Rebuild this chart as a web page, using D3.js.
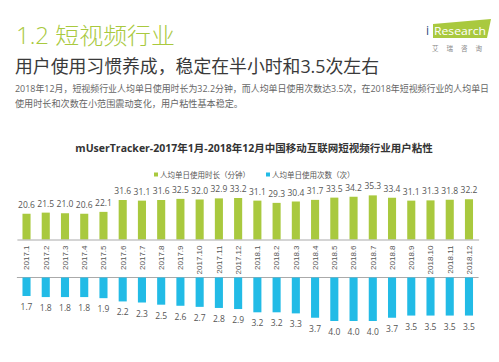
<!DOCTYPE html>
<html lang="zh">
  <head>
    <meta charset="UTF-8" />
    <title>短视频行业用户粘性</title>
    <script src="https://d3js.org/d3.v7.min.js"></script>
    <style>
      body { margin: 0; background: #fff; }
      svg { display: block; font-family: "Open Sans", "Noto Sans CJK SC", sans-serif; }
    </style>
  </head>
  <body>
    <svg id="chart" width="499" height="362"></svg>
    <script>
      const months = ["2017.1","2017.2","2017.3","2017.4","2017.5","2017.6","2017.7","2017.8","2017.9","2017.10","2017.11","2017.12",
                      "2018.1","2018.2","2018.3","2018.4","2018.5","2018.6","2018.7","2018.8","2018.9","2018.10","2018.11","2018.12"];
      const minutes = [20.6,21.5,21.0,20.6,22.1,31.6,31.1,31.6,32.5,32.0,32.9,33.2,31.1,29.3,30.4,31.7,33.5,34.2,35.3,33.4,31.1,31.3,31.8,32.2];
      const times = [1.7,1.8,1.8,1.8,1.9,2.2,2.3,2.5,2.6,2.7,2.8,2.9,3.2,3.2,3.3,3.7,4.0,4.0,4.0,3.7,3.5,3.5,3.5,3.5];
      const legendNames = ["人均单日使用时长（分钟）", "人均单日使用次数（次）"];

      const green = "#a9c93e";
      const blue = "#22bbe6";
      const svg = d3.select("#chart");

      // header
      svg.append("text").attr("x", 16).attr("y", 44)
        .attr("font-size", 23).attr("fill", green).attr("font-weight", 300)
        .attr("textLength", 159).attr("lengthAdjust", "spacingAndGlyphs")
        .text("1.2 短视频行业");
      svg.append("text").attr("x", 15).attr("y", 73)
        .attr("font-size", 18).attr("fill", "#3a3a3a")
        .attr("textLength", 364).attr("lengthAdjust", "spacingAndGlyphs")
        .text("用户使用习惯养成，稳定在半小时和3.5次左右");
      svg.append("text").attr("x", 15).attr("y", 92)
        .attr("font-size", 9.4).attr("fill", "#666")
        .attr("textLength", 474).attr("lengthAdjust", "spacingAndGlyphs")
        .text("2018年12月，短视频行业人均单日使用时长为32.2分钟，而人均单日使用次数达3.5次，在2018年短视频行业的人均单日");
      svg.append("text").attr("x", 15).attr("y", 107)
        .attr("font-size", 9.4).attr("fill", "#666")
        .attr("textLength", 228).attr("lengthAdjust", "spacingAndGlyphs")
        .text("使用时长和次数在小范围震动变化，用户粘性基本稳定。");

      // logo
      const logo = svg.append("g");
      logo.append("path").attr("d", "M433,24 L491,19 L487,38 L433,38 Z").attr("fill", green);
      logo.append("text").attr("x", 426).attr("y", 35).attr("font-size", 12).attr("fill", "#2a4a7a").text("i");
      logo.append("text").attr("x", 434).attr("y", 35).attr("font-size", 11).attr("fill", "#fff")
        .attr("textLength", 52).attr("lengthAdjust", "spacingAndGlyphs").text("Research");
      logo.append("text").attr("x", 461).attr("y", 51).attr("font-size", 6.5).attr("fill", "#888")
        .attr("text-anchor", "middle").attr("letter-spacing", 8).text("艾瑞咨询");

      // chart title + legend
      svg.append("text").attr("x", 254).attr("y", 152).attr("text-anchor", "middle")
        .attr("font-size", 10.5).attr("font-weight", "bold").attr("fill", "#333")
        .text("mUserTracker-2017年1月-2018年12月中国移动互联网短视频行业用户粘性");
      const legend = svg.append("g").selectAll("g").data(legendNames).join("g")
        .attr("transform", (d, i) => `translate(${i ? 266 : 154},172)`);
      legend.append("rect").attr("y", 0.5).attr("width", 4).attr("height", 4)
        .attr("fill", (d, i) => i ? blue : green);
      legend.append("text").attr("x", 6).attr("y", 5.5).attr("font-size", 7.5).attr("fill", "#555").text(d => d);

      const x = d3.scaleBand().domain(months).range([16.9, 478.6]).paddingInner(0.58).paddingOuter(0.29);
      const yTop = d3.scaleLinear().domain([0, 40]).range([239.5, 189.5]);
      const yBot = d3.scaleLinear().domain([0, 4]).range([277.5, 321]);
      const fmt = d3.format(".1f");

      // upper bars
      svg.append("g").selectAll("rect").data(minutes).join("rect")
        .attr("x", (d, i) => x(months[i])).attr("width", x.bandwidth())
        .attr("y", d => yTop(d)).attr("height", d => yTop(0) - yTop(d))
        .attr("fill", green);
      svg.append("g").selectAll("text").data(minutes).join("text")
        .attr("x", (d, i) => x(months[i]) + x.bandwidth() / 2).attr("y", d => yTop(d) - 6)
        .attr("text-anchor", "middle").attr("font-size", 8.5).attr("fill", "#555")
        .text(fmt);

      // month axis
      const axis = svg.append("g").attr("transform", "translate(0,239.5)")
        .call(d3.axisBottom(x).tickSize(0).tickSizeOuter(0));
      axis.select(".domain").attr("stroke", "#aaa");
      axis.selectAll("text")
        .attr("font-size", 8).attr("fill", "#555")
        .attr("transform", "rotate(-90)").attr("text-anchor", "end")
        .attr("x", -6).attr("y", 0).attr("dy", "0.35em");

      // lower bars
      svg.append("line").attr("x1", 16.9).attr("x2", 478.6).attr("y1", 277.5).attr("y2", 277.5).attr("stroke", "#aaa");
      svg.append("g").selectAll("rect").data(times).join("rect")
        .attr("x", (d, i) => x(months[i])).attr("width", x.bandwidth())
        .attr("y", yBot(0)).attr("height", d => yBot(d) - yBot(0))
        .attr("fill", blue);
      svg.append("g").selectAll("text").data(times).join("text")
        .attr("x", (d, i) => x(months[i]) + x.bandwidth() / 2).attr("y", d => yBot(d) + 14)
        .attr("text-anchor", "middle").attr("font-size", 8.5).attr("fill", "#555")
        .text(fmt);
    </script>
  </body>
</html>
